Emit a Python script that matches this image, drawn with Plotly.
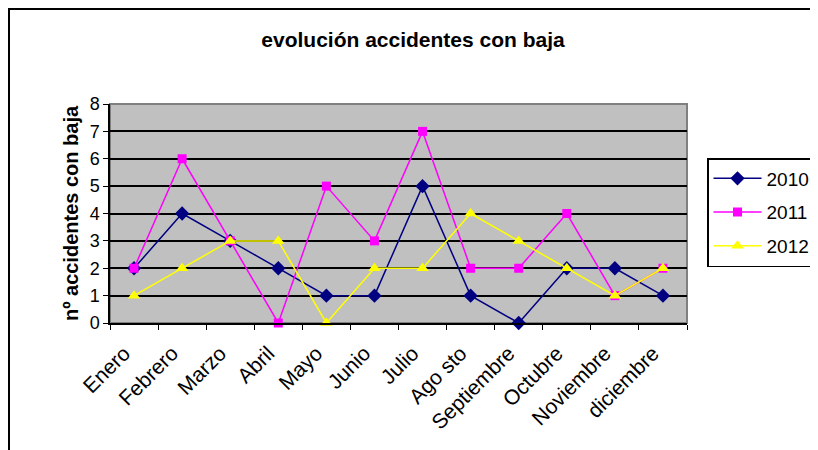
import plotly.graph_objects as go

months = ["Enero", "Febrero", "Marzo", "Abril", "Mayo", "Junio", "Julio",
          "Ago sto", "Septiembre", "Octubre", "Noviembre", "diciembre"]
y2010 = [2, 4, 3, 2, 1, 1, 5, 1, 0, 2, 2, 1]
y2011 = [2, 6, 3, 0, 5, 3, 7, 2, 2, 4, 1, 2]
y2012 = [1, 2, 3, 3, 0, 2, 2, 4, 3, 2, 1, 2]

# page body has an 8px margin, so figure coords = screen coords - 8
OFF = 8
W, H = 818 - OFF, 450 - OFF
L, R, T, B = 110 - OFF, 131, 104 - OFF, 127
pw, ph = W - L - R, H - T - B

def px_x(x):
    return (x - OFF - L) / pw

def px_y(y):
    return (H - B - (y - OFF)) / ph

fig = go.Figure()
fig.add_trace(go.Scatter(x=months, y=y2010, name="2010", mode="lines+markers",
                         line=dict(color="#000080", width=1.5),
                         marker=dict(symbol="diamond", size=11, color="#000080"),
                         legendgroup="a", cliponaxis=False))
fig.add_trace(go.Scatter(x=months, y=y2011, name="2011", mode="lines+markers",
                         line=dict(color="#FF00FF", width=1.5),
                         marker=dict(symbol="square", size=9, color="#FF00FF"),
                         legendgroup="b", cliponaxis=False))
fig.add_trace(go.Scatter(x=months, y=y2012, name="2012", mode="lines+markers",
                         line=dict(color="#FFFF00", width=1.5),
                         marker=dict(symbol="triangle-up", size=11, color="#FFFF00"),
                         legendgroup="c", cliponaxis=False))

fig.update_layout(
    width=W, height=H,
    margin=dict(l=L, r=R, t=T, b=B, autoexpand=False),
    paper_bgcolor="white",
    plot_bgcolor="#C0C0C0",
    font=dict(family="Arial, Liberation Sans, sans-serif", size=18, color="black"),
    title=dict(text="<b>evolución accidentes con baja</b>", x=0.5, xanchor="center",
               y=1 - (40 - OFF) / H, yanchor="middle", font=dict(size=21)),
    showlegend=True,
    legend=dict(x=px_x(707), y=px_y(158), xanchor="left", yanchor="top",
                bordercolor="black", borderwidth=1.5, bgcolor="white",
                font=dict(size=19), tracegroupgap=6, itemwidth=48),
    xaxis=dict(type="category", tickson="boundaries", ticks="outside", ticklen=5,
               tickcolor="black", tickangle=-45, showgrid=False,
               showline=True, linecolor="black", linewidth=1.5,
               range=[-0.5, 11.5], tickfont=dict(size=21), ticklabelstandoff=8,
               ticklabelshift=-10),
    yaxis=dict(range=[0, 8], dtick=1, ticks="outside", ticklen=5, tickcolor="black",
               showgrid=True, gridcolor="black", gridwidth=1.5,
               showline=True, linecolor="black", linewidth=1.5, zeroline=False,
               tickfont=dict(size=18),
               title=dict(text="<b>nº accidentes con baja</b>", font=dict(size=20), standoff=6)),
    shapes=[
        dict(type="rect", xref="paper", yref="paper", x0=0, x1=1, y0=0, y1=1,
             line=dict(color="#808080", width=2), layer="below"),
        dict(type="rect", xref="paper", yref="paper",
             x0=px_x(9), x1=px_x(840), y0=px_y(470), y1=px_y(9),
             line=dict(color="black", width=2)),
    ],
)

fig.write_html("out.html")
